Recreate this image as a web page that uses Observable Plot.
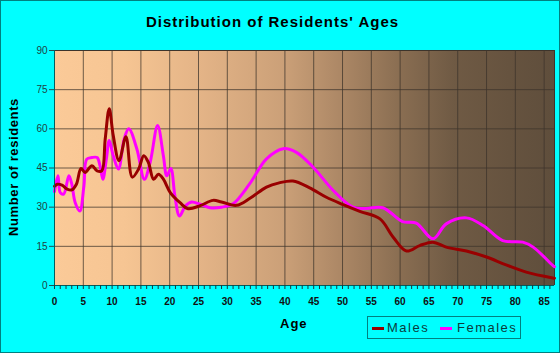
<!DOCTYPE html>
<html>
<head>
<meta charset="utf-8">
<script src="https://cdn.jsdelivr.net/npm/d3@7"></script>
<script src="https://cdn.jsdelivr.net/npm/@observablehq/plot@0.6"></script>
<style>
  html, body { margin: 0; padding: 0; background: #00FFFF; }
  #chart { position: relative; width: 560px; height: 353px; background: #00FFFF; box-shadow: inset 0 0 0 1px #008080; overflow: hidden; font-family: Arial, "Liberation Sans", sans-serif; }
  #title { position: absolute; left: 0; width: 545px; top: 13px; text-align: center; font-weight: bold; font-size: 15px; letter-spacing: 1px; color: #000; }
  #bg { position: absolute; left: 54px; top: 50px; width: 500px; height: 235px;
        background: linear-gradient(to right, #FBCA98 0%, #F6C593 14%, #E4B487 29%, #CBA078 46%, #AD8866 57%, #8A6E52 69%, #6F5A44 80%, #66533F 91%, #5F4E3C 100%); }
  #plot { position: absolute; left: 0; top: 0; }
  #ylabel { position: absolute; left: 13px; top: 167px; transform: translate(-50%, -50%) rotate(-90deg); white-space: nowrap; font-weight: bold; font-size: 13px; letter-spacing: 0.6px; color: #000; }
  #xlabel { position: absolute; left: 280px; top: 316px; font-weight: bold; font-size: 13px; letter-spacing: 1px; color: #000; }
  #legend { position: absolute; left: 367px; top: 316px; width: 154px; height: 23px; box-sizing: border-box; border: 1px solid #008080; font-size: 13px; letter-spacing: 1.5px; color: #0B3C3C; }
  .sw { position: absolute; top: 10px; width: 12px; height: 3px; }
  .lt { position: absolute; top: 3px; }
</style>
</head>
<body>
<div id="chart">
  <div id="title">Distribution of Residents' Ages</div>
  <div id="bg"></div>
  <div id="plot"></div>
  <div id="ylabel">Number of residents</div>
  <div id="xlabel">Age</div>
  <div id="legend">
    <span class="sw" style="left:4px;background:#990000"></span><span class="lt" style="left:19px">Males</span>
    <span class="sw" style="left:72px;background:#FF00FF"></span><span class="lt" style="left:89px">Females</span>
  </div>
</div>
<script>
const xTicks = [0, 5, 10, 15, 20, 25, 30, 35, 40, 45, 50, 55, 60, 65, 70, 75, 80, 85];
const yTicks = [0, 15, 30, 45, 60, 75, 90];
const seriesNames = ["Males", "Females"];

const maleAges   = [0, 0.5, 1.3, 2.2, 3, 3.8, 4.6, 5.3, 6.5, 7.4, 8.2, 8.8, 9.5, 10.2, 11.2, 12.4, 13.5, 14.6, 15.5, 16.3, 17.2, 18.05, 18.9, 20.1, 21.8, 23.2, 25.3, 27.5, 29, 31.6, 34, 36.8, 39, 41.4, 44.3, 47.2, 50.1, 53, 56.5, 58.8, 61.1, 63.4, 65.7, 68, 71.5, 75, 78.4, 81.9, 86.5, 86.8];
const maleValues = [38, 38.8, 38.4, 36.9, 36.6, 38.8, 44.8, 43.3, 45.9, 43.9, 43.9, 56, 67.7, 57.4, 47.8, 57, 41.5, 44.6, 49.7, 47.1, 40.7, 42.6, 40.7, 35.6, 31.7, 29.4, 30.6, 32.6, 32, 30.7, 33.5, 37.7, 39.3, 40, 37.4, 33.8, 31, 28.4, 25.5, 18.5, 13.2, 15.3, 16.6, 14.7, 13.2, 10.9, 7.9, 5.1, 2.9, 2.8];

const femaleAges   = [0, 0.6, 1, 1.6, 2.5, 3, 3.6, 4.4, 5.1, 5.6, 6.5, 7.4, 7.9, 8.4, 9, 9.5, 10.2, 11.1, 12.1, 12.9, 14.3, 15.6, 16.6, 17.9, 18.9, 19.5, 20.2, 20.9, 21.7, 22.7, 23.8, 25.3, 27, 29, 31, 33.9, 36.8, 39.7, 42, 44.9, 48.4, 51.8, 54, 57, 60.4, 62.8, 65.7, 68, 71.5, 74.4, 77.8, 81.3, 83.1, 86.5, 86.8];
const femaleValues = [36, 42, 35.6, 35, 42, 38.8, 31.7, 28.5, 38, 48.4, 49, 49, 45.9, 40.7, 48.4, 55.5, 49.7, 44.6, 56.1, 60, 52.3, 40.7, 47.1, 61.3, 49.7, 42, 44.8, 34.3, 26.6, 30.4, 32, 31.1, 29.8, 30, 31.3, 39, 48.5, 52.4, 51, 45.3, 36.4, 30, 29.5, 29.8, 24.5, 23.9, 17.9, 23.6, 25.9, 23, 17.2, 16.6, 14.7, 7.7, 7.2];

const males = maleAges.map((a, i) => ({age: a, value: maleValues[i]}));
const females = femaleAges.map((a, i) => ({age: a, value: femaleValues[i]}));
const xMax = 86.8;

const chart = Plot.plot({
  width: 560,
  height: 353,
  marginTop: 50,
  marginBottom: 68,
  marginLeft: 54,
  marginRight: 6,
  style: {background: "transparent", fontFamily: "Arial, 'Liberation Sans', sans-serif", overflow: "visible"},
  x: {domain: [0, xMax]},
  y: {domain: [0, 90]},
  marks: [
    Plot.gridX(xTicks.filter(d => d > 0), {stroke: "#3d342b", strokeOpacity: 0.75, strokeWidth: 1}),
    Plot.gridY(yTicks.filter(d => d > 0 && d < 90), {stroke: "#3d342b", strokeOpacity: 0.75, strokeWidth: 1}),
    Plot.ruleY([90], {stroke: "#3d342b", strokeWidth: 1}),
    Plot.ruleX([xMax], {stroke: "#3d342b", strokeWidth: 1}),
    Plot.line(females, {x: "age", y: "value", stroke: "#FF00FF", strokeWidth: 3, curve: "catmull-rom"}),
    Plot.line(males, {x: "age", y: "value", stroke: "#990000", strokeWidth: 3, curve: "catmull-rom"}),
    Plot.ruleX([0], {stroke: "#006060", strokeWidth: 1}),
    Plot.ruleY([0], {stroke: "#006060", strokeWidth: 1}),
    Plot.axisX(d3.range(0, 87, 1), {tickSize: 4, text: null, label: null, stroke: "#1a3a3a"}),
    Plot.axisX(xTicks, {tickSize: 0, tickPadding: 12, label: null, fontSize: 10, fontWeight: "bold", fill: "#111", tickFormat: d => String(d)}),
    Plot.axisY(yTicks, {tickSize: 5, tickPadding: 2, label: null, fontSize: 10, fill: "#1f3f3f", stroke: "#1f5050", fontFamily: "'Liberation Sans Narrow', Arial, sans-serif", tickFormat: d => String(d)})
  ]
});
document.getElementById("plot").appendChild(chart);
</script>
</body>
</html>
